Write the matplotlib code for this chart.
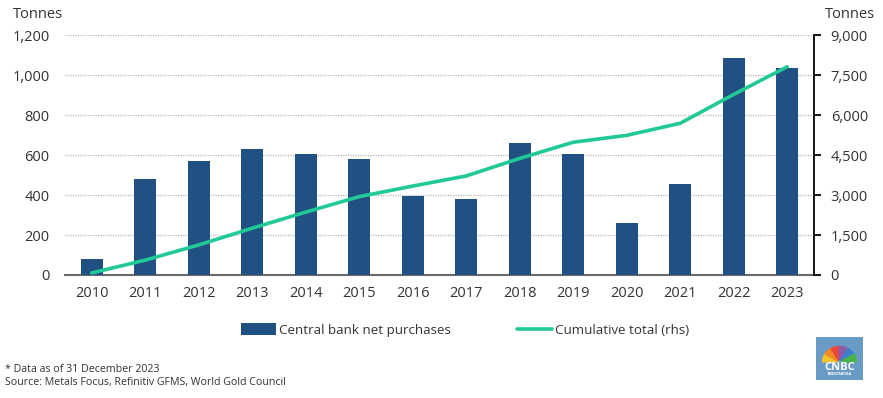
import matplotlib.pyplot as plt
from matplotlib.patches import Rectangle, Wedge

# data
years = [str(y) for y in range(2010, 2024)]
net_purchases = [80, 481, 570, 628, 603, 580, 396, 380, 658, 606, 258, 453, 1083, 1037]
cumulative = [77, 558, 1128, 1756, 2359, 2939, 3335, 3715, 4373, 4979, 5237, 5690, 6773, 7810]
left_ticks = [0, 200, 400, 600, 800, 1000, 1200]
right_ticks = [0, 1500, 3000, 4500, 6000, 7500, 9000]

bar_color = "#215183"
line_color = "#20C995"
text_color = "#333333"

plt.rcParams["font.family"] = ["Open Sans", "DejaVu Sans"]

fig = plt.figure(figsize=(8.83, 3.98), dpi=100)
ax = fig.add_axes([65 / 883, 1 - 275 / 398, (814 - 65) / 883, 240 / 398])
x = list(range(len(years)))

ax.bar(x, net_purchases, width=0.42, color=bar_color, zorder=3,
       label="Central bank net purchases")
ax.set_xlim(-0.5, len(years) - 0.5)
ax.set_ylim(0, 1200)
ax.set_yticks(left_ticks)
ax.set_yticklabels([f"{v:,}" for v in left_ticks])
ax.set_xticks(x)
ax.set_xticklabels(years)
ax.yaxis.grid(True, color="#bbbbbb", linestyle=(0, (1, 1)), linewidth=0.9, zorder=0)
for s in ["top", "left", "right"]:
    ax.spines[s].set_visible(False)
ax.spines["bottom"].set_color("#6b6b6b")
ax.spines["bottom"].set_linewidth(1.5)
ax.tick_params(axis="both", length=0, labelsize=10.5, colors=text_color, pad=8)
ax.tick_params(axis="y", pad=11)

ax2 = ax.twinx()
ax2.plot(x, cumulative, color=line_color, linewidth=2.6, zorder=4,
         solid_capstyle="round", solid_joinstyle="round",
         label="Cumulative total (rhs)")
ax2.set_ylim(0, 9000)
ax2.set_yticks(right_ticks)
ax2.set_yticklabels([f"{v:,}" for v in right_ticks])
for s in ["top", "left", "bottom"]:
    ax2.spines[s].set_visible(False)
ax2.spines["right"].set_color("black")
ax2.spines["right"].set_linewidth(1.3)
ax2.tick_params(axis="y", length=5, width=1.3, color="black", labelsize=10.5,
                labelcolor=text_color, pad=7)

fig.text(13 / 883, 1 - 14 / 398, "Tonnes", fontsize=10.5, color=text_color, va="center")
fig.text(825 / 883, 1 - 14 / 398, "Tonnes", fontsize=10.5, color=text_color, va="center")

h1, l1 = ax.get_legend_handles_labels()
h2, l2 = ax2.get_legend_handles_labels()
fig.legend(h1 + h2, l1 + l2, loc="center", bbox_to_anchor=(465 / 883, 1 - 330 / 398),
           ncol=2, frameon=False, fontsize=9.6, handlelength=2.6, handleheight=1.0,
           handletextpad=0.2, columnspacing=5.0, labelcolor=text_color)

fig.text(5 / 883, 1 - 369 / 398, "* Data as of 31 December 2023", fontsize=7.7,
         color=text_color, va="center")
fig.text(5 / 883, 1 - 383 / 398, "Source: Metals Focus, Refinitiv GFMS, World Gold Council",
         fontsize=7.7, color=text_color, va="center")

# small logo box
logo = fig.add_axes([816 / 883, 1 - 380 / 398, 47 / 883, 43 / 398])
logo.set_xlim(0, 1)
logo.set_ylim(0, 1)
logo.axis("off")
logo.add_patch(Rectangle((0, 0), 1, 1, color="#6a9bc6"))
feathers = ["#f4c430", "#f08a24", "#e8473d", "#8e5aa8", "#3c7ed0", "#49b14b"]
for i, c in enumerate(feathers):
    logo.add_patch(Wedge((0.5, 0.42), 0.36, 180 - (i + 1) * 30, 180 - i * 30,
                         color=c, width=0.3))
logo.text(0.5, 0.3, "CNBC", color="white", fontsize=8, fontweight="bold",
          ha="center", va="center")
logo.text(0.5, 0.13, "INDONESIA", color="white", fontsize=3.2, fontweight="bold",
          ha="center", va="center")

fig.savefig("out.png", dpi=100)
